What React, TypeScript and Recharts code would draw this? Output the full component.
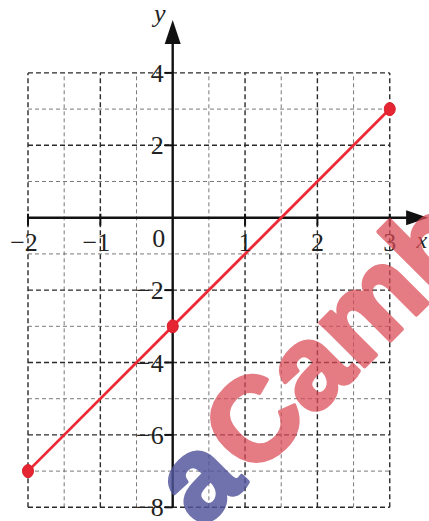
import React from "react";
import { LineChart, Line, XAxis, YAxis, ReferenceLine, ReferenceDot } from "recharts";

// Plotted line y = 2x - 3 through its three marked points
const pointX = [-2, 0, 3];
const pointY = [-7, -3, 3];

// Grid: x every 0.5 (integers heavier), y every 1 (even values heavier)
const gridX = [-2, -1.5, -1, -0.5, 0.5, 1, 1.5, 2, 2.5, 3];
const gridY = [4, 3, 2, 1, -1, -2, -3, -4, -5, -6, -7, -8];

// Axis tick values and their labels
const xTickValues = [-2, -1, 1, 2, 3];
const xTickLabels = ["\u22122", "\u22121", "1", "2", "3"];
const yTickValues = [4, 2, -2, -4, -6, -8];
const yTickLabels = ["4", "2", "\u22122", "\u22124", "\u22126", "\u22128"];

const GRID_X_MIN = -2;
const GRID_X_MAX = 3;
const GRID_Y_MIN = -8;
const GRID_Y_MAX = 4;

// Visible window of the plane
const X_DOMAIN: [number, number] = [-2.387, 3.5425];
const Y_DOMAIN: [number, number] = [-8.378, 6.014];

const data = pointX.map((x, i) => ({ x, y: pointY[i] }));

const W = 429;
const H = 521;
const SERIF = "'Liberation Serif', 'Times New Roman', serif";
const LABEL_SIZE = 26;

const majorStyle = { stroke: "#2a2a2a", strokeWidth: 1.4, strokeDasharray: "5 3" };
const minorStyle = { stroke: "#6a6a6a", strokeWidth: 0.9, strokeDasharray: "4 3" };

const XArrowAxis = (p: any) => {
  const { x1, y1, x2 } = p;
  return (
    <g>
      <line x1={x1} y1={y1} x2={x2 - 14} y2={y1} stroke="#111" strokeWidth={2.4} />
      <polygon points={`${x2},${y1} ${x2 - 22},${y1 - 7.5} ${x2 - 22},${y1 + 7.5}`} fill="#111" />
    </g>
  );
};

const YArrowAxis = (p: any) => {
  const { x1, y1, y2 } = p;
  const top = Math.min(y1, y2);
  const bottom = Math.max(y1, y2);
  return (
    <g>
      <line x1={x1} y1={bottom} x2={x1} y2={top + 14} stroke="#111" strokeWidth={2.4} />
      <polygon points={`${x1},${top} ${x1 - 8},${top + 24} ${x1 + 8},${top + 24}`} fill="#111" />
    </g>
  );
};

const XTick = (label: string, anchorShift: number) => (p: any) => {
  const { cx, cy } = p;
  return (
    <g>
      <line x1={cx} y1={cy - 4} x2={cx} y2={cy + 8} stroke="#111" strokeWidth={2} />
      <text
        x={cx + anchorShift}
        y={cy + 33}
        textAnchor="middle"
        fontFamily={SERIF}
        fontSize={LABEL_SIZE}
        fill="#222"
      >
        {label}
      </text>
    </g>
  );
};

const YTick = (label: string) => (p: any) => {
  const { cx, cy } = p;
  return (
    <g>
      <line x1={cx - 8} y1={cy} x2={cx} y2={cy} stroke="#111" strokeWidth={2} />
      <text
        x={cx - 9}
        y={cy + 9}
        textAnchor="end"
        fontFamily={SERIF}
        fontSize={LABEL_SIZE}
        fill="#222"
      >
        {label}
      </text>
    </g>
  );
};

const OriginLabel = (p: any) => (
  <text x={p.cx - 14} y={p.cy + 29} textAnchor="middle" fontFamily={SERIF} fontSize={LABEL_SIZE} fill="#222">
    0
  </text>
);

const YName = (p: any) => (
  <text x={p.cx - 13} y={p.cy} textAnchor="middle" fontFamily={SERIF} fontStyle="italic" fontSize={26} fill="#222">
    y
  </text>
);

const XName = (p: any) => (
  <text x={p.cx} y={p.cy} textAnchor="start" fontFamily={SERIF} fontStyle="italic" fontSize={24} fill="#222">
    x
  </text>
);

const PointDot = (p: any) => {
  const { cx, cy } = p;
  if (cx == null || cy == null) return <g />;
  return <ellipse cx={cx} cy={cy} rx={5.5} ry={6.5} fill="#e62532" stroke="#d81f2c" strokeWidth={1} />;
};

export default function App() {
  return (
    <div style={{ position: "absolute", left: 0, top: 0, width: W, height: H, background: "#fff" }}>
      <LineChart width={W} height={H} data={data} margin={{ top: 0, right: 0, bottom: 0, left: 0 }}>
        <XAxis dataKey="x" type="number" domain={X_DOMAIN} allowDataOverflow hide />
        <YAxis dataKey="y" type="number" domain={Y_DOMAIN} allowDataOverflow hide />

        {gridX.map((gx) => (
          <ReferenceLine
            key={`gx${gx}`}
            segment={[
              { x: gx, y: GRID_Y_MIN },
              { x: gx, y: GRID_Y_MAX },
            ]}
            {...(Number.isInteger(gx) ? majorStyle : minorStyle)}
          />
        ))}
        {gridY.map((gy) => (
          <ReferenceLine
            key={`gy${gy}`}
            segment={[
              { x: GRID_X_MIN, y: gy },
              { x: GRID_X_MAX, y: gy },
            ]}
            {...(gy % 2 === 0 ? majorStyle : minorStyle)}
          />
        ))}

        <ReferenceLine
          segment={[
            { x: GRID_X_MIN, y: 0 },
            { x: 3.53, y: 0 },
          ]}
          shape={XArrowAxis}
        />
        <ReferenceLine
          segment={[
            { x: 0, y: GRID_Y_MIN },
            { x: 0, y: 5.46 },
          ]}
          shape={YArrowAxis}
        />

        {xTickValues.map((v, i) => (
          <ReferenceDot key={`xt${v}`} x={v} y={0} r={0} shape={XTick(xTickLabels[i], v < 0 ? -4 : 0)} />
        ))}
        {yTickValues.map((v, i) => (
          <ReferenceDot key={`yt${v}`} x={0} y={v} r={0} shape={YTick(yTickLabels[i])} />
        ))}
        <ReferenceDot x={0} y={0} r={0} shape={OriginLabel} />
        <ReferenceDot x={0} y={5.4} r={0} shape={YName} />
        <ReferenceDot x={3.37} y={-0.85} r={0} shape={XName} />

        <Line
          dataKey="y"
          type="linear"
          stroke="#ec2a36"
          strokeWidth={2.8}
          dot={<PointDot />}
          activeDot={false}
          isAnimationActive={false}
        />
      </LineChart>

      <svg
        width={W}
        height={H}
        style={{ position: "absolute", left: 0, top: 0, pointerEvents: "none" }}
      >
        <g
          transform="translate(250,481) rotate(-45)"
          fontFamily="'Liberation Sans', Arial, sans-serif"
          fontWeight="bold"
          fontSize={118}
          strokeWidth={4}
          strokeLinejoin="round"
        >
          <g opacity={0.82}>
            <text x={-3} y={0} textAnchor="end" fill="#50549a" stroke="#50549a">
              a
            </text>
          </g>
          <g opacity={0.72}>
            <text x={3} y={0} textAnchor="start" fill="#dc4a56" stroke="#dc4a56">
              Camb
            </text>
          </g>
        </g>
      </svg>
    </div>
  );
}
